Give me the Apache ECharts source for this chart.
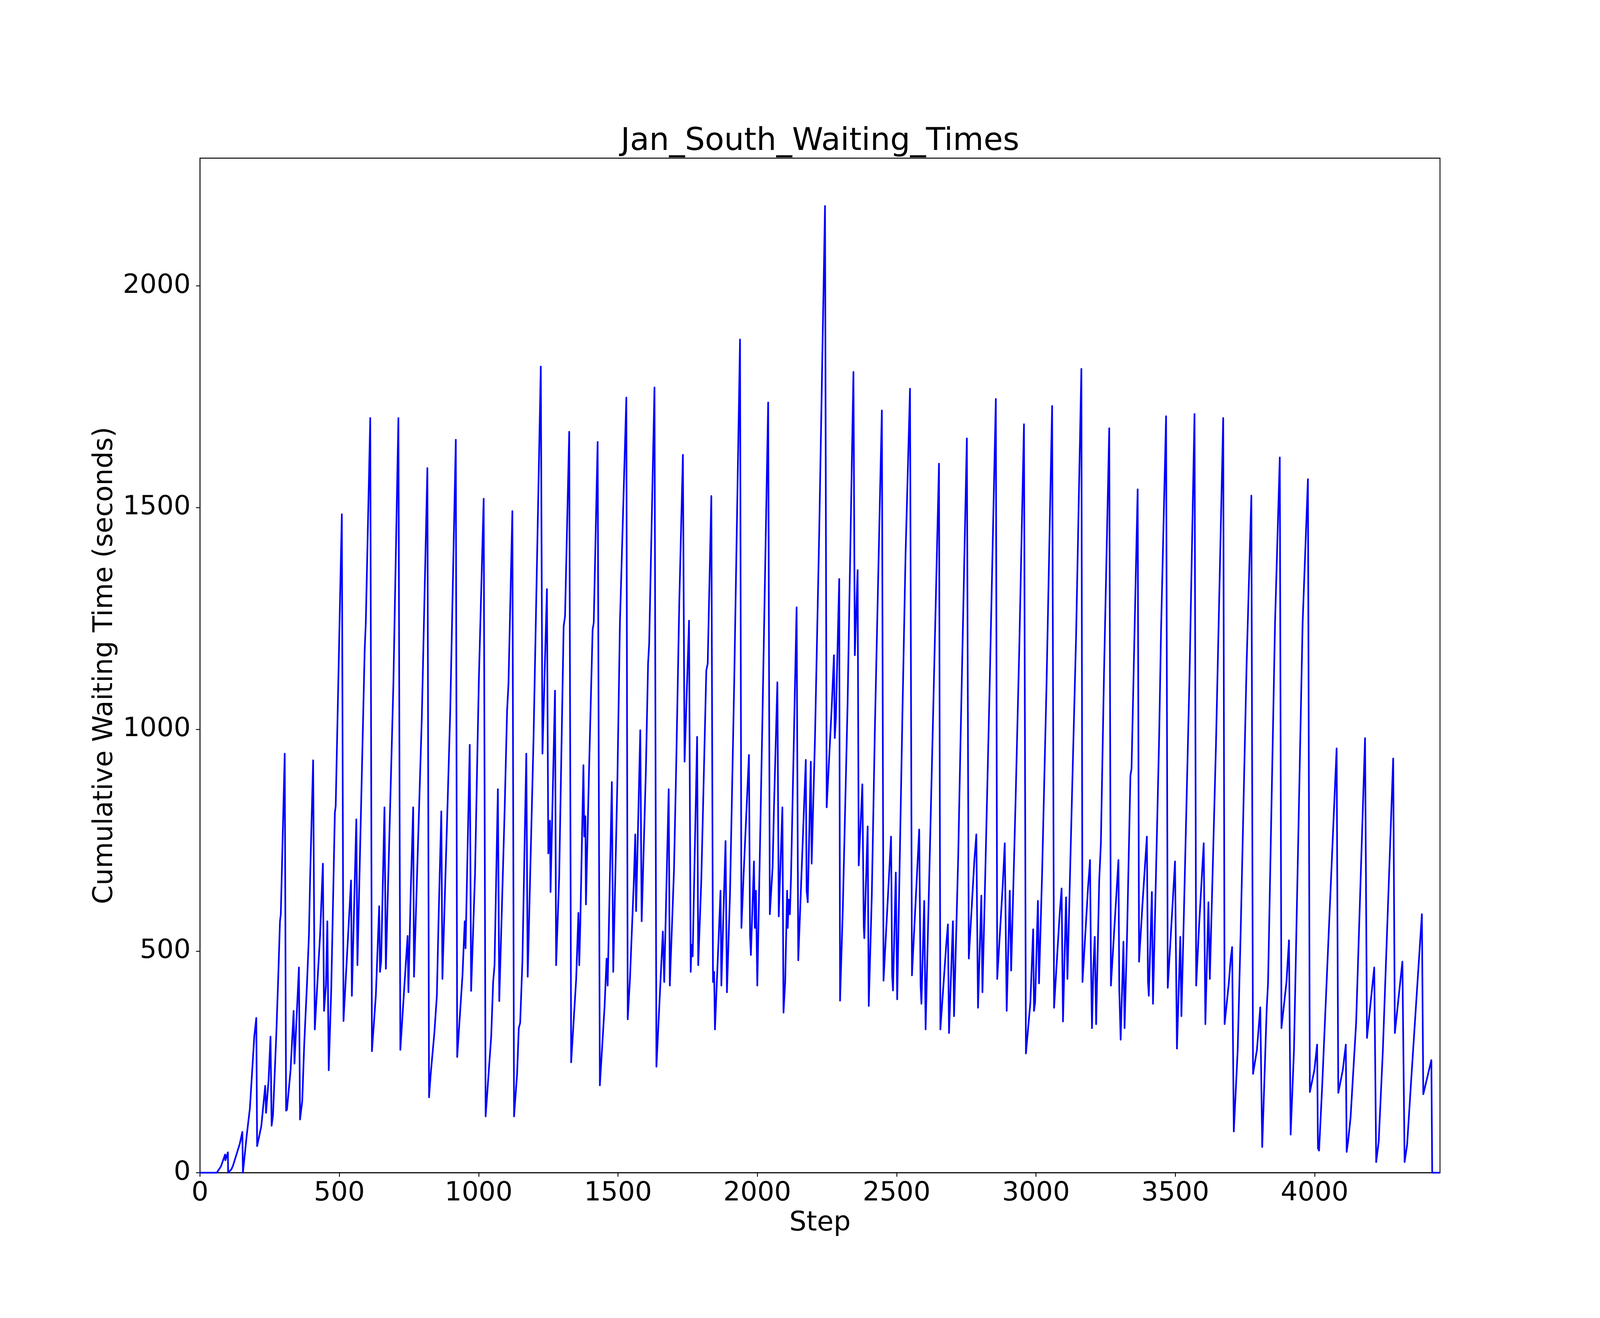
<!DOCTYPE html>
<html>
<head>
<meta charset="utf-8">
<script src="https://cdn.jsdelivr.net/npm/echarts@6/dist/echarts.min.js"></script>
<style>
html,body{margin:0;padding:0;background:#fff;overflow:hidden;width:100%;height:100%;}
#chart{position:absolute;left:0;top:0;width:100vw;height:100vh;}
</style>
</head>
<body>
<div id="chart"></div>
<script>
const titleText = 'Jan_South_Waiting_Times';
const xAxisLabel = 'Step';
const yAxisLabel = 'Cumulative Waiting Time (seconds)';
const xTicks = [0, 500, 1000, 1500, 2000, 2500, 3000, 3500, 4000];
const yTicks = [0, 500, 1000, 1500, 2000];
const xRange = [0, 4450];
const yRange = [0, 2288];

const steps = [
0,60,75,90,91,100,101,113,119,143,152,154,168,179,195,202,205,220,234,237,246,253,257,262,274,281,287,290,304,309,312,325,336,339,355,359,367,374,384,391,395,406,412,431,441,445,452,457,462,471,484,487,509,515,542,545,561,565,591,595,611,617,631,643,646,650,662,667,694,712,719,739,745,748,756,765,768,796,816,822,828,841,850,856,866,870,890,898,918,923,942,950,953,968,973,987,996,
1001,1018,1025,1045,1052,1057,1069,1074,1093,1102,1107,1121,1127,1138,1144,1149,1157,1171,1176,1197,1223,1229,1245,1250,1256,1258,1274,1278,1289,1305,1310,1325,1332,1350,1358,1361,1365,1376,1379,1383,1385,1396,1409,1413,1427,1435,1452,1459,1463,1478,1483,1498,1507,1530,1535,1543,1557,1562,1565,1580,1585,1600,1608,1612,1631,1638,1661,1666,1682,1686,1701,1709,1720,1733,1739,1755,1761,1764,1768,1784,1788,1799,1817,1822,1835,1841,1845,1848,1868,1871,1886,1891,1902,1917,1938,1943,1951,1970,1974,1977,1988,1991,1995,
2000,2018,2039,2045,2055,2060,2072,2077,2090,2094,2100,2107,2109,2113,2117,2121,2141,2147,2174,2177,2181,2192,2195,2207,2222,2243,2249,2267,2275,2278,2282,2294,2297,2307,2324,2345,2350,2360,2364,2377,2382,2384,2396,2400,2411,2422,2447,2453,2468,2480,2484,2487,2497,2502,2521,2532,2548,2555,2572,2581,2586,2589,2599,2604,2631,2652,2657,2678,2684,2688,2702,2706,2721,2728,2752,2759,2779,2786,2792,2804,2808,2819,2834,2856,2861,2881,2888,2895,2906,2911,2927,2940,2957,2964,2980,2990,2993,2997,
3007,3011,3022,3038,3058,3065,3085,3092,3097,3108,3113,3129,3144,3163,3167,3187,3194,3197,3201,3206,3211,3216,3227,3233,3244,3263,3269,3296,3299,3304,3314,3318,3327,3339,3343,3365,3370,3383,3398,3402,3405,3416,3420,3442,3449,3467,3473,3491,3499,3506,3518,3522,3532,3551,3569,3575,3585,3602,3608,3619,3624,3646,3672,3677,3692,3699,3704,3710,3724,3735,3756,3773,3779,3793,3805,3812,3828,3833,3858,3875,3881,3899,3908,3914,3926,3957,3976,3983,3999,
4009,4012,4016,4027,4079,4085,4101,4112,4115,4120,4129,4149,4181,4188,4214,4221,4230,4245,4282,4288,4315,4323,4332,4345,4385,4390,4419,4422,4450
];

const waitTimes = [
0,0,14,41,28,46,0,8,17,66,92,0,86,145,309,349,60,105,196,135,208,307,106,130,315,445,567,583,945,140,142,231,365,246,463,120,162,289,427,537,659,930,323,537,697,365,422,567,231,414,812,827,1485,342,659,399,797,468,1179,1240,1702,274,399,601,453,476,824,460,1102,1702,277,476,534,407,628,824,442,1026,1589,170,223,315,399,567,815,437,865,1041,1653,261,445,567,506,965,410,674,965,
1118,1520,127,307,430,468,865,387,812,1041,1102,1492,127,223,326,338,476,945,442,980,1818,945,1316,720,794,633,1087,468,667,1232,1255,1671,249,437,586,468,567,919,758,804,605,904,1225,1240,1648,197,376,483,422,881,453,888,1240,1748,346,437,659,763,590,998,567,904,1148,1194,1771,239,544,430,865,422,682,919,1286,1619,927,1245,453,514,488,983,468,659,1133,1148,1526,430,453,323,636,422,748,407,628,1102,1879,552,674,942,534,491,702,552,636,
422,1011,1737,583,690,827,1106,578,824,361,430,636,552,616,583,667,1275,479,931,636,610,927,697,980,1439,2180,824,1049,1167,980,1026,1339,388,598,1057,1806,1167,1359,693,876,555,529,781,376,628,1003,1719,433,613,758,445,411,677,391,1041,1393,1768,445,659,774,422,381,613,323,1034,1599,323,514,560,315,567,353,713,934,1656,483,705,763,372,625,407,697,1102,1745,437,651,743,365,636,456,842,1179,1688,269,384,549,365,384,
613,427,674,1102,1729,372,583,641,341,621,437,842,1209,1813,430,644,705,498,326,460,532,335,659,743,1118,1679,422,705,414,300,521,326,537,896,911,1541,476,613,758,433,399,633,381,980,1225,1706,417,613,702,280,532,353,613,1118,1711,422,552,743,335,610,437,965,1702,335,427,483,509,93,277,552,1148,1527,223,277,373,58,368,430,1240,1613,326,430,524,86,277,1240,1564,182,231,
289,55,50,193,957,180,231,289,47,70,124,338,980,304,463,24,70,277,934,315,476,24,63,193,583,177,254,0,0
];

const seriesData = steps.map((s, i) => [s, waitTimes[i]]);

// Layout designed for 6000x3375; scaled to the actual window size.
const W = window.innerWidth || 6000;
const H = window.innerHeight || 3375;
const sx = W / 6000, sy = H / 3375, fs = Math.min(sx, sy);

const FONT = 'DejaVu Sans';
const plain = v => String(v);
const gridTop = 405 * sy, gridBottom = 372 * sy;
const chart = echarts.init(document.getElementById('chart'), null, {renderer: 'canvas', width: W, height: H});
chart.setOption({
  animation: false,
  backgroundColor: '#ffffff',
  title: {
    text: titleText,
    left: (750 + 2325) * sx,
    top: gridTop - 121 * fs,
    textAlign: 'center',
    padding: 0,
    textStyle: {fontFamily: FONT, fontSize: 118 * fs, fontWeight: 'normal', color: '#000'}
  },
  grid: {
    left: 750 * sx, right: 600 * sx, top: gridTop, bottom: gridBottom,
    show: true, borderColor: '#000', borderWidth: 3.3 * fs, backgroundColor: 'transparent'
  },
  xAxis: {
    type: 'value',
    min: xRange[0], max: xRange[1],
    name: xAxisLabel,
    nameLocation: 'middle',
    nameGap: 140 * fs,
    nameTextStyle: {fontFamily: FONT, fontSize: 101 * fs, color: '#000'},
    axisLine: {show: true, lineStyle: {color: '#000', width: 3.3 * fs}},
    axisTick: {show: true, length: 15 * fs, lineStyle: {color: '#000', width: 3.3 * fs}, customValues: xTicks},
    axisLabel: {fontFamily: FONT, fontSize: 100 * fs, color: '#000', margin: 28 * fs, customValues: xTicks, formatter: plain},
    splitLine: {show: false}
  },
  yAxis: {
    type: 'value',
    min: yRange[0], max: yRange[1],
    name: yAxisLabel,
    nameLocation: 'middle',
    nameGap: 258 * fs,
    nameTextStyle: {fontFamily: FONT, fontSize: 101 * fs, color: '#000'},
    axisLine: {show: true, lineStyle: {color: '#000', width: 3.3 * fs}},
    axisTick: {show: true, length: 15 * fs, lineStyle: {color: '#000', width: 3.3 * fs}, customValues: yTicks},
    axisLabel: {fontFamily: FONT, fontSize: 100 * fs, color: '#000', margin: 35 * fs, customValues: yTicks, formatter: plain},
    splitLine: {show: false}
  },
  series: [{
    type: 'line',
    data: seriesData,
    showSymbol: false,
    symbol: 'none',
    clip: true,
    lineStyle: {color: '#0000ff', width: 6.25 * fs, join: 'round', cap: 'butt'},
    itemStyle: {color: '#0000ff'}
  }]
});
</script>
</body>
</html>
